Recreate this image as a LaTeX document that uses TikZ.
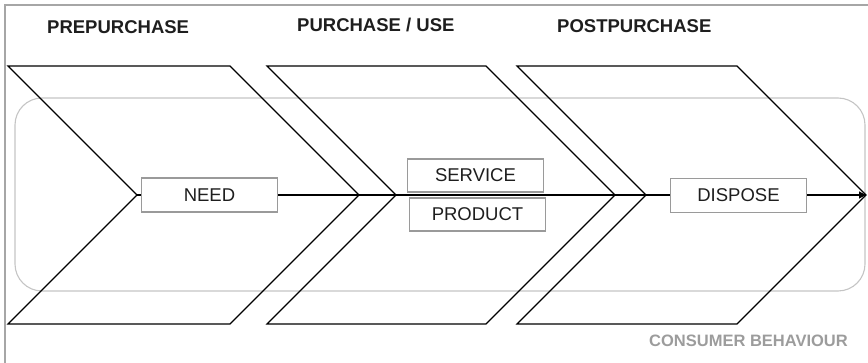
\documentclass[tikz,border=0pt]{standalone}
\usepackage{fontspec}
\setmainfont{Liberation Sans}
\usetikzlibrary{arrows.meta}
\definecolor{framegray}{HTML}{A6A6A6}
\definecolor{roundgray}{HTML}{C4C4C4}
\definecolor{boxgray}{HTML}{9A9A9A}
\definecolor{txtdark}{HTML}{1E1E1E}
\definecolor{labelgray}{HTML}{9C9C9C}
\tikzset{
  chevron/.style={draw=black, line width=1.1pt, line join=miter},
  stagebox/.style={draw=boxgray, line width=1.1pt, fill=white, rectangle, inner sep=0pt,
    minimum width=136pt, minimum height=34pt, text=txtdark,
    font=\fontsize{18.5}{20}\selectfont},
  header/.style={anchor=base west, inner sep=0pt, text=txtdark,
    font=\fontsize{18.5}{20}\selectfont\bfseries},
  flow/.style={draw=black, line width=1.1pt}
}
\begin{document}
\begin{tikzpicture}[x=1pt, y=-1pt]
\useasboundingbox (0,0) rectangle (868,363);
% frame (top and left edges visible)
\draw[framegray, line width=2pt] (5,363) -- (5,5) -- (868,5);
% consumer behaviour rounded region
\draw[roundgray, line width=1.1pt, rounded corners=27pt] (15,98) rectangle (865,291);
% chevrons
\draw[chevron] (8,66) -- (230,66) -- (359,195) -- (230,324) -- (8,324) -- (137,195) -- cycle;
\draw[chevron] (267,66) -- (486,66) -- (615,195) -- (486,324) -- (267,324) -- (396,195) -- cycle;
\draw[chevron] (517,66) -- (737,66) -- (866,195) -- (737,324) -- (517,324) -- (646,195) -- cycle;
% flow endpoints
\coordinate (n1) at (137,195);
\coordinate (t3) at (866,195);
% boxes
\node[stagebox] (need) at (209.5,195) {NEED};
\node[stagebox, minimum height=33pt] (service) at (475.5,175.5) {SERVICE};
\node[stagebox, minimum height=33pt] (product) at (477.5,214.5) {PRODUCT};
\node[stagebox] (dispose) at (738.5,195.5) {DISPOSE};
% flow line
\draw[flow] (n1) -- (need.west);
\draw[flow] (need.east) -- (need.east -| dispose.west);
\draw[flow, -{Triangle[length=7pt, width=7pt]}] (dispose.east |- t3) -- (t3);
% headers
\node[header] (pre) at (47,34) {PREPURCHASE};
\node[header] (use) at (297,32) {PURCHASE / USE};
\node[header] (post) at (557,33) {POSTPURCHASE};
\node[header, anchor=base east, text=labelgray, font=\fontsize{16.5}{20}\selectfont\bfseries] (cb) at (848,347) {CONSUMER BEHAVIOUR};
\end{tikzpicture}
\end{document}
